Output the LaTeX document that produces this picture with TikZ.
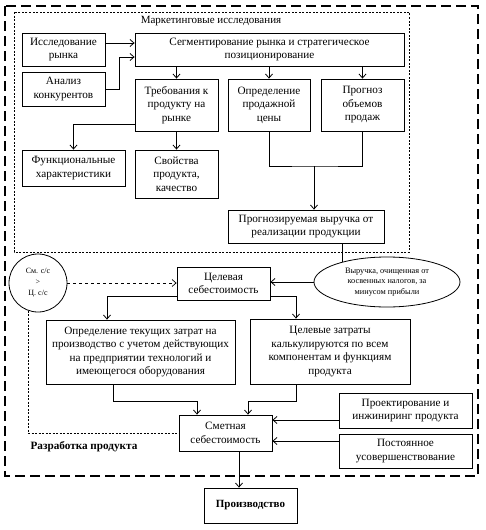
\documentclass[tikz,border=0pt]{standalone}
\usepackage{fontspec}
\setmainfont{Liberation Serif}
\usetikzlibrary{arrows.meta,shapes.geometric}
\begin{document}
\begin{tikzpicture}[x=1pt,y=-1pt,
  box/.style={draw,line width=0.8pt,inner sep=1pt,align=center,font=\fontsize{11.2}{13.5}\selectfont},
  arr/.style={-{Straight Barb[length=4pt,width=7pt]},line width=0.8pt},
  ln/.style={line width=0.8pt}]
\useasboundingbox (0,0) rectangle (485,530);
% outer frames
\draw[line width=1.3pt,dash pattern=on 10pt off 5pt] (5,6) rectangle (478,476);
\draw[line width=0.7pt,dash pattern=on 2pt off 1.5pt] (14,12) rectangle (409,252);
\node[font=\fontsize{11}{13}\selectfont] (title) at (211,21) {Маркетинговые исследования};
% nodes
\node[box,minimum width=83,minimum height=33] (issl) at (63.5,49.5) {Исследование\\рынка};
\node[box,minimum width=83,minimum height=34] (anal) at (63.5,89) {Анализ\\конкурентов};
\node[box,minimum width=269,minimum height=33] (seg) at (269.5,49.5) {Сегментирование рынка и стратегическое\\позиционирование};
\node[box,minimum width=83,minimum height=52] (treb) at (176.5,105) {Требования к\\продукту на\\рынке};
\node[box,minimum width=82,minimum height=52] (opr) at (269,105) {Определение\\продажной\\цены};
\node[box,minimum width=83,minimum height=52] (prog) at (362.5,105) {Прогноз\\объемов\\продаж};
\node[box,minimum width=103,minimum height=36] (func) at (73.5,168) {Функциональные\\характеристики};
\node[box,minimum width=83,minimum height=48] (svoi) at (176.5,174) {Свойства\\продукта,\\качество};
\node[box,minimum width=156,minimum height=33] (vyr) at (306,226.5) {Прогнозируемая выручка от\\реализации продукции};
\node[draw,line width=0.8pt,ellipse,minimum width=146,minimum height=50,inner sep=0pt,align=center,font=\fontsize{8.3}{10.5}\selectfont] (ell) at (387,282) {Выручка, очищенная от\\косвенных налогов, за\\минусом прибыли};
\node[draw,line width=0.8pt,circle,minimum size=58,inner sep=0pt,align=center,font=\fontsize{8}{11}\selectfont] (circ) at (38,283) {См. с/с\\>\\Ц. с/с};
\node[box,minimum width=93,minimum height=33] (cel) at (223.5,283.5) {Целевая\\себестоимость};
\node[box,minimum width=189,minimum height=64] (tek) at (140.5,352) {Определение текущих затрат на\\производство с учетом действующих\\на предприятии технологий и\\имеющегося оборудования};
\node[box,minimum width=160,minimum height=65] (celz) at (330,351.5) {Целевые затраты\\калькулируются по всем\\компонентам и функциям\\продукта};
\node[box,minimum width=93,minimum height=36] (smet) at (225.5,433) {Сметная\\себестоимость};
\node[box,minimum width=133,minimum height=35] (proj) at (405.5,410.5) {Проектирование и\\инжиниринг продукта};
\node[box,minimum width=133,minimum height=34] (post) at (405.5,451) {Постоянное\\усовершенствование};
\node[font=\fontsize{11.2}{13}\selectfont\bfseries] (razr) at (84,447) {Разработка продукта};
\node[box,minimum width=93,minimum height=35,font=\fontsize{11}{13}\selectfont\bfseries] (proizv) at (250.5,505.5) {Производство};
% connectors
\draw[arr] ([yshift=6.5pt]issl.east) -- ([yshift=6.5pt]issl.east -| seg.west);
\draw[arr] (anal.east) -- ++(14,0) |- ([yshift=-7.5pt]seg.west);
\draw[arr] (treb.north |- seg.south) -- (treb.north);
\draw[arr] (opr.north |- seg.south) -- (opr.north);
\draw[arr] (prog.north |- seg.south) -- (prog.north);
\draw[arr] ([yshift=-19pt]treb.west) -| (func.north);
\draw[arr] (treb.south) -- (svoi.north);
\coordinate (jn) at (314,166);
\draw[ln] (opr.south) |- (jn) -| (prog.south);
\draw[arr] (jn) -- (jn |- vyr.north);
\draw[ln] (ell.156 |- vyr.south) -- (ell.156);
\draw[arr] (ell.west) -- (ell.west -| cel.east);
\draw[arr,dashed,line width=0.7pt] (circ.east) -- (circ.east -| cel.west);
\draw[line width=0.7pt,dash pattern=on 2pt off 1.5pt] (circ.250) |- (smet.west);
\draw[arr] ([yshift=-12.5pt]cel.west) -| ([xshift=-33.5pt]tek.north);
\draw[arr] ([yshift=-12.5pt]cel.east) -| ([xshift=-34pt]celz.north);
\draw[arr] ([xshift=-27.5pt]tek.south) -- ++(0,17) -| ([xshift=-28.5pt]smet.north);
\draw[arr] ([xshift=-34pt]celz.south) -- ++(0,17) -| ([xshift=22.5pt]smet.north);
\draw[arr] ([yshift=-9.5pt]proj.west) -- ([yshift=-9.5pt]proj.west -| smet.east);
\draw[arr] ([yshift=10pt]post.west) -- ([yshift=10pt]post.west -| smet.east);
\draw[arr] ([xshift=13.5pt]smet.south) -- ([xshift=13.5pt]smet.south |- proizv.north);
\end{tikzpicture}
\end{document}
